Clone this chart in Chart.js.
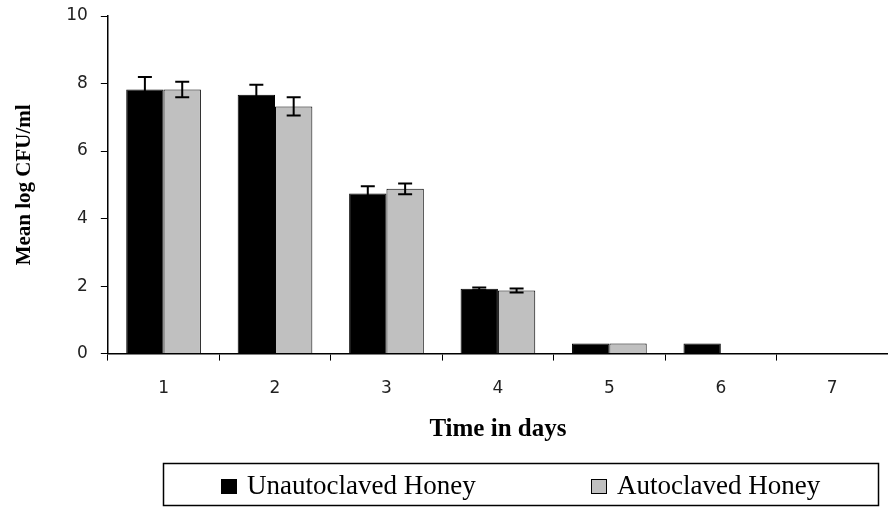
<!DOCTYPE html>
<html>
<head>
<meta charset="utf-8">
<script src="https://cdn.jsdelivr.net/npm/chart.js@4/dist/chart.umd.min.js"></script>
<style>
  html, body { margin: 0; padding: 0; background: #fff; }
  #wrap { width: 888px; height: 508px; position: relative; }
</style>
</head>
<body>
<div id="wrap"><canvas id="honeyChart"></canvas></div>
<script>
// values
const days = ['1', '2', '3', '4', '5', '6', '7'];
const unautoclaved = [7.82, 7.67, 4.74, 1.92, 0.3, 0.3, 0];
const autoclaved = [7.82, 7.32, 4.88, 1.87, 0.3, 0, 0];
const unautoclavedErr = [0.37, 0.29, 0.22, 0.04, 0, 0, 0];
const autoclavedErr = [0.23, 0.27, 0.16, 0.06, 0, 0, 0];
const yTicks = [0, 2, 4, 6, 8, 10];

const serif = '"Liberation Serif", "Times New Roman", serif';

// error bars drawn through the y scale
const errorBars = {
    id: 'errorBars',
    afterDatasetsDraw(chart) {
        const ctx = chart.ctx;
        const y = chart.scales.y;
        chart.data.datasets.forEach((ds, i) => {
            const meta = chart.getDatasetMeta(i);
            meta.data.forEach((bar, j) => {
                const e = ds.errors[j];
                if (!e) return;
                const v = ds.data[j];
                const top = y.getPixelForValue(v + e);
                const bot = y.getPixelForValue(v - e);
                ctx.save();
                ctx.strokeStyle = '#000';
                ctx.lineWidth = 2;
                ctx.beginPath();
                ctx.moveTo(bar.x, top); ctx.lineTo(bar.x, bot);
                ctx.moveTo(bar.x - 7, top); ctx.lineTo(bar.x + 7, top);
                ctx.moveTo(bar.x - 7, bot); ctx.lineTo(bar.x + 7, bot);
                ctx.stroke();
                ctx.restore();
            });
        });
    }
};

// boxed legend under the x axis title
const boxedLegend = {
    id: 'boxedLegend',
    afterDraw(chart) {
        const ctx = chart.ctx;
        const itemX = [221, 591];
        ctx.save();
        ctx.strokeStyle = '#000';
        ctx.lineWidth = 1.5;
        ctx.strokeRect(163.5, 463.5, 715, 42);
        ctx.font = '27px ' + serif;
        ctx.textBaseline = 'alphabetic';
        chart.data.datasets.forEach((ds, i) => {
            ctx.fillStyle = ds.backgroundColor;
            ctx.fillRect(itemX[i], 479, 16, 15);
            ctx.strokeStyle = '#000';
            ctx.lineWidth = 1;
            ctx.strokeRect(itemX[i] + 0.5, 479.5, 15, 14);
            ctx.fillStyle = '#000';
            ctx.fillText(ds.label, itemX[i] + 26, 494);
        });
        ctx.restore();
    }
};

new Chart(document.getElementById('honeyChart'), {
    type: 'bar',
    data: {
        labels: days,
        datasets: [
            {
                label: 'Unautoclaved Honey',
                data: unautoclaved,
                errors: unautoclavedErr,
                backgroundColor: '#000000',
                borderColor: '#000000',
                borderWidth: 1
            },
            {
                label: 'Autoclaved Honey',
                data: autoclaved,
                errors: autoclavedErr,
                backgroundColor: '#c0c0c0',
                borderColor: '#000000',
                borderWidth: 1
            }
        ]
    },
    options: {
        responsive: true,
        maintainAspectRatio: false,
        animation: false,
        categoryPercentage: 0.67,
        barPercentage: 1.0,
        layout: { padding: { top: 16, left: 8, right: -8, bottom: 59 } },
        plugins: {
            legend: { display: false },
            tooltip: { enabled: false }
        },
        scales: {
            x: {
                grid: {
                    display: true,
                    drawOnChartArea: false,
                    offset: true,
                    tickLength: 7,
                    color: '#000'
                },
                border: { color: '#000', width: 1.5 },
                ticks: {
                    padding: 18,
                    color: '#222',
                    font: { family: '"DejaVu Sans", sans-serif', size: 17 }
                },
                title: {
                    display: true,
                    text: 'Time in days',
                    color: '#000',
                    font: { family: serif, size: 25, weight: 'bold' },
                    padding: { top: -2, bottom: 4 }
                }
            },
            y: {
                min: 0,
                max: 10,
                afterBuildTicks(axis) { axis.ticks = yTicks.map(v => ({ value: v })); },
                afterFit(axis) { axis.paddingTop = 0; axis.paddingBottom = 0; },
                grid: {
                    display: true,
                    drawOnChartArea: false,
                    tickLength: 7,
                    color: '#000'
                },
                border: { color: '#000', width: 1.5 },
                ticks: {
                    padding: 13,
                    color: '#222',
                    font: { family: '"DejaVu Sans", sans-serif', size: 17 }
                },
                title: {
                    display: true,
                    text: 'Mean log CFU/ml',
                    color: '#000',
                    font: { family: serif, size: 21, weight: 'bold' },
                    padding: { top: 4, bottom: 16 }
                }
            }
        }
    },
    plugins: [errorBars, boxedLegend]
});
</script>
</body>
</html>
